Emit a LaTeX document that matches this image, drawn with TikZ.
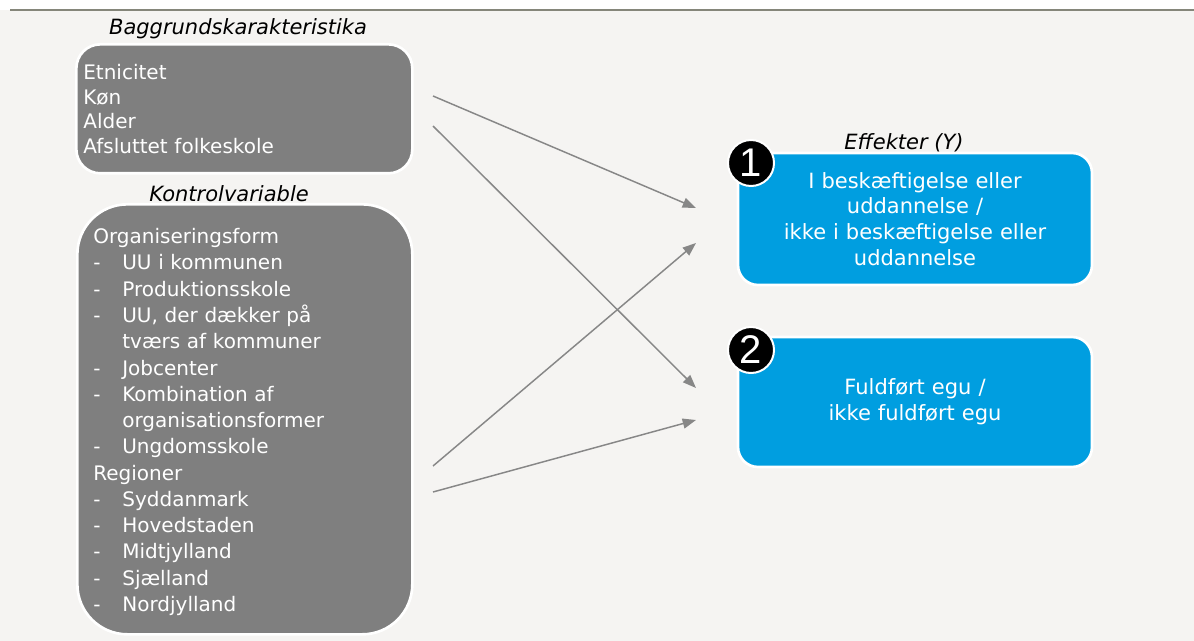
\documentclass[tikz,border=0pt]{standalone}
\usepackage{fontspec}
\setmainfont{DejaVu Sans}
\newfontfamily\numfont{Liberation Sans}
\usetikzlibrary{arrows.meta}
\definecolor{boxgray}{HTML}{7F7F7F}
\definecolor{effblue}{HTML}{009EE0}
\definecolor{bggray}{HTML}{F5F4F2}
\definecolor{rulegray}{HTML}{85867A}
\definecolor{arrowgray}{HTML}{878787}
\newcommand{\dashitem}[1]{\makebox[21.75pt][l]{-}#1}
\newcommand{\dashcont}[1]{\hspace*{21.75pt}#1}

\begin{document}
\begin{tikzpicture}[x=0.75pt,y=-0.75pt]
            \tikzstyle{varbox}=[draw=white,line width=2pt,fill=boxgray,text=white,align=left,anchor=north west,font=\fontsize{15}{18.4}\selectfont]
            \tikzstyle{effbox}=[draw=white,line width=2pt,fill=effblue,text=white,align=center,rounded corners=15pt,minimum width=265.5pt,text width=250pt,font=\fontsize{15.75}{19.3}\selectfont]
            \tikzstyle{numcirc}=[circle,fill=black,draw=white,line width=1.5pt,minimum size=34.5pt,inner sep=0pt,text=white,font=\numfont\fontsize{30}{30}\selectfont]
            \tikzstyle{grouplbl}=[font=\itshape\fontsize{15.75}{18}\selectfont]
            \tikzstyle{effarrow}=[draw=arrowgray,line width=1.1pt,-{Triangle[length=10pt,width=7.5pt]}]
            \useasboundingbox (0,0) rectangle (1194,641);
            \fill[white] (0,0) rectangle (1194,10);
            \fill[bggray] (0,10) rectangle (1194,641);
            \draw[rulegray,line width=1.3pt] (10,10) -- (1194,10);
            \node[grouplbl] (baglbl) at (238,29) {Baggrundskarakteristika};
            \node[varbox,rounded corners=18pt,inner xsep=5.25pt,text width=241.5pt,minimum height=96.75pt] (bag) at (75,43)
                {Etnicitet\\Køn\\Alder\\Afsluttet folkeskole};
            \node[grouplbl] (kontrollbl) at (229,194) {Kontrolvariable};
            \node[varbox,rounded corners=37.5pt,inner xsep=12pt,text width=227.25pt,minimum height=322.5pt,font=\fontsize{15}{19.7}\selectfont] (kontrol) at (76,203)
                {\rule{0pt}{15.5pt}Organiseringsform\\
                \dashitem{UU i kommunen}\\
                \dashitem{Produktionsskole}\\
                \dashitem{UU, der dækker på}\\
                \dashcont{tværs af kommuner}\\
                \dashitem{Jobcenter}\\
                \dashitem{Kombination af}\\
                \dashcont{organisationsformer}\\
                \dashitem{Ungdomsskole}\\
                Regioner\\
                \dashitem{Syddanmark}\\
                \dashitem{Hovedstaden}\\
                \dashitem{Midtjylland}\\
                \dashitem{Sjælland}\\
                \dashitem{Nordjylland}};
            \node[grouplbl] (efflbl) at (904,143) {Effekter (Y)};
            \node[effbox,minimum height=99pt] (eff1) at (915,219)
                {I beskæftigelse eller\\uddannelse /\\ikke i beskæftigelse eller\\uddannelse};
            \node[effbox,minimum height=97.5pt] (eff2) at (915,402)
                {Fuldført egu /\\ikke fuldført egu};
            \node[numcirc] (num1) at (751,163) {1};
            \node[numcirc] (num2) at (751,350) {2};
            \coordinate (bagout1) at (433,96);
            \coordinate (bagout2) at (433,126);
            \coordinate (kontrolout1) at (433,466);
            \coordinate (kontrolout2) at (433,492);
            \coordinate (eff1in1) at (696,208);
            \coordinate (eff1in2) at (696,243);
            \coordinate (eff2in1) at (696,388);
            \coordinate (eff2in2) at (696,420);
            \draw[effarrow] (bagout1) -- (eff1in1);
            \draw[effarrow] (bagout2) -- (eff2in1);
            \draw[effarrow] (kontrolout1) -- (eff1in2);
            \draw[effarrow] (kontrolout2) -- (eff2in2);
        \end{tikzpicture}
\end{document}
